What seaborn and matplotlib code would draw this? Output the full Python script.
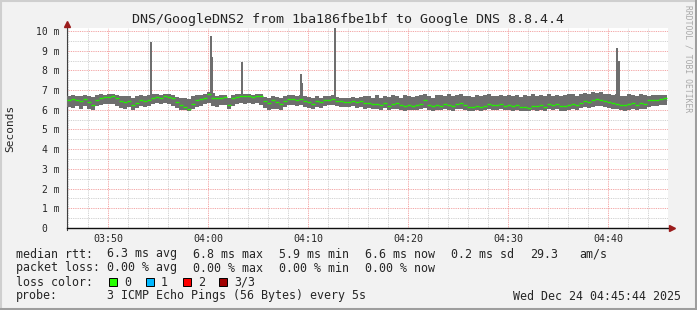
import numpy as np
import pandas as pd
import matplotlib
matplotlib.use("Agg")
import matplotlib.pyplot as plt
from matplotlib.patches import Rectangle
from matplotlib.lines import Line2D
import seaborn as sns

# ---------------- data (minutes after 03:00, values in ms) ----------------
t_start = 46.1          # first sample centre (03:46:06)
t_step = 0.4            # minutes between samples

median_ms = [
    6.50, 6.55, 6.48, 6.42, 6.55, 6.38, 6.22, 6.50, 6.62, 6.66,
    6.64, 6.68, 6.60, 6.45, 6.38, 6.42, 6.22, 6.35, 6.48, 6.45,
    6.50, 6.62, 6.66, 6.60, 6.70, 6.64, 6.58, 6.40, 6.22, 6.12,
    6.05, 6.30, 6.50, 6.55, 6.62, 6.78, 6.60, 6.58, 6.62, 6.64,
    6.25, 6.60, 6.66, 6.70, 6.68, 6.72, 6.66, 6.70, 6.68, 6.45,
    6.32, 6.48, 6.38, 6.30, 6.42, 6.55, 6.56, 6.52, 6.55, 6.45,
    6.40, 6.28, 6.42, 6.38, 6.52, 6.50, 6.55, 6.45, 6.42, 6.38,
    6.40, 6.45, 6.38, 6.42, 6.35, 6.36, 6.28, 6.30, 6.25, 6.32,
    6.20, 6.28, 6.35, 6.22, 6.18, 6.25, 6.20, 6.22, 6.28, 6.50,
    6.22, 6.18, 6.25, 6.20, 6.30, 6.22, 6.18, 6.28, 6.32, 6.25,
    6.15, 6.12, 6.20, 6.15, 6.18, 6.30, 6.22, 6.25, 6.28, 6.20,
    6.25, 6.18, 6.22, 6.12, 6.15, 6.10, 6.20, 6.18, 6.25, 6.15,
    6.28, 6.22, 6.30, 6.20, 6.18, 6.25, 6.30, 6.22, 6.35, 6.42,
    6.40, 6.48, 6.55, 6.50, 6.45, 6.38, 6.35, 6.30, 6.25, 6.22,
    6.28, 6.32, 6.25, 6.35, 6.30, 6.48, 6.52, 6.50, 6.55, 6.58,
]
smoke_hi = [
    6.72, 6.75, 6.70, 6.68, 6.76, 6.72, 6.65, 6.74, 6.78, 6.76,
    6.78, 6.80, 6.76, 6.70, 6.72, 6.68, 6.60, 6.72, 6.74, 6.70,
    6.74, 6.78, 6.80, 6.76, 6.82, 6.78, 6.74, 6.66, 6.62, 6.58,
    6.55, 6.70, 6.74, 6.76, 6.82, 6.92, 6.86, 6.72, 6.74, 6.76,
    6.62, 6.74, 6.78, 6.80, 6.78, 6.80, 6.76, 6.80, 6.78, 6.66,
    6.62, 6.70, 6.66, 6.60, 6.72, 6.76, 6.74, 6.72, 6.74, 6.68,
    6.66, 6.58, 6.70, 6.62, 6.72, 6.70, 6.74, 6.64, 6.62, 6.60,
    6.62, 6.66, 6.60, 6.64, 6.72, 6.70, 6.62, 6.74, 6.60, 6.72,
    6.66, 6.76, 6.70, 6.62, 6.74, 6.72, 6.66, 6.70, 6.76, 6.78,
    6.70, 6.62, 6.74, 6.76, 6.70, 6.78, 6.68, 6.74, 6.80, 6.70,
    6.72, 6.66, 6.76, 6.70, 6.74, 6.78, 6.72, 6.70, 6.76, 6.68,
    6.74, 6.70, 6.76, 6.66, 6.74, 6.70, 6.78, 6.72, 6.76, 6.70,
    6.78, 6.72, 6.76, 6.70, 6.74, 6.80, 6.78, 6.72, 6.82, 6.86,
    6.80, 6.88, 6.86, 6.90, 6.82, 6.78, 6.74, 6.80, 6.72, 6.70,
    6.78, 6.74, 6.70, 6.82, 6.76, 6.70, 6.74, 6.76, 6.74, 6.76,
]
smoke_lo = [
    6.15, 6.10, 6.20, 6.05, 6.18, 6.02, 6.00, 6.20, 6.25, 6.30,
    6.28, 6.30, 6.20, 6.10, 6.05, 6.15, 6.00, 6.08, 6.20, 6.15,
    6.18, 6.30, 6.35, 6.28, 6.32, 6.30, 6.20, 6.10, 6.00, 5.98,
    5.95, 6.05, 6.15, 6.20, 6.28, 6.35, 6.20, 6.15, 6.25, 6.25,
    6.05, 6.20, 6.28, 6.35, 6.30, 6.35, 6.28, 6.32, 6.25, 6.10,
    6.00, 6.05, 6.02, 6.00, 6.12, 6.25, 6.22, 6.20, 6.25, 6.15,
    6.10, 6.02, 6.15, 6.10, 6.20, 6.22, 6.25, 6.18, 6.15, 6.12,
    6.15, 6.18, 6.10, 6.12, 6.05, 6.08, 6.02, 6.05, 6.00, 6.08,
    5.98, 6.02, 6.05, 5.98, 5.96, 6.00, 5.98, 6.00, 6.02, 6.10,
    5.98, 5.95, 6.00, 5.98, 6.05, 5.98, 5.96, 6.02, 6.05, 6.00,
    5.95, 5.94, 5.98, 5.95, 5.98, 6.02, 5.98, 6.00, 6.02, 5.98,
    6.00, 5.96, 5.98, 5.94, 5.95, 5.94, 5.98, 5.96, 6.00, 5.95,
    6.02, 5.98, 6.02, 5.96, 5.95, 6.00, 6.04, 5.98, 6.08, 6.12,
    6.10, 6.15, 6.20, 6.18, 6.12, 6.08, 6.05, 6.02, 5.98, 5.96,
    6.00, 6.05, 5.98, 6.05, 6.02, 6.15, 6.20, 6.18, 6.22, 6.25,
]
spike_time = [54.3, 60.3, 60.4, 63.4, 69.3, 69.4, 72.7, 100.9, 101.0, 101.1]
spike_top = [9.45, 9.75, 8.70, 8.40, 7.82, 7.35, 10.4, 9.15, 8.45, 8.45]

xtick_pos = [50, 60, 70, 80, 90, 100]
xtick_labels = ["03:50", "04:00", "04:10", "04:20", "04:30", "04:40"]
ytick_pos = [0, 1, 2, 3, 4, 5, 6, 7, 8, 9, 10]
ytick_labels = ["0  ", "1 m", "2 m", "3 m", "4 m", "5 m", "6 m", "7 m", "8 m", "9 m", "10 m"]

loss_labels = ["0", "1", "2", "3/3"]
loss_colors = ["#26ff00", "#00b8ff", "#ff0000", "#a00000"]

# ---------------- figure ----------------
W, H = 697, 310
sns.set_style("white")
plt.rcParams["font.family"] = ["DejaVu Sans Mono", "DejaVu Sans"]

fig = plt.figure(figsize=(W / 100, H / 100), dpi=100, facecolor="#f2f2f2")
L, R, T, B = 67, 668, 28, 228
ax = fig.add_axes([L / W, 1 - B / H, (R - L) / W, (B - T) / H])
ax.set_facecolor("white")

times = t_start + t_step * np.arange(len(median_ms))
df = pd.DataFrame({"t": times, "median": median_ms, "lo": smoke_lo, "hi": smoke_hi})

# smoke band
ax.bar(df["t"], df["hi"] - df["lo"], bottom=df["lo"], width=t_step * 1.06,
       color="#6e6e6e", linewidth=0, zorder=3)
# spikes
ax.bar(spike_time, np.array(spike_top) - 6.6, bottom=6.6, width=0.11,
       color="#6e6e6e", linewidth=0, zorder=3)
# median
sns.scatterplot(data=df, x="t", y="median", marker="_", s=8, linewidth=1.0,
                color="#22f000", ax=ax, zorder=5, legend=False)

ax.set_xlim(45.9, 106.0)
ax.set_ylim(0, 10.15)

# grid
gkw = dict(linewidth=0.72, linestyle=(0, (0.9, 0.9)), zorder=1)
for m in np.arange(46, 106.1, 2):
    if m % 10 != 0:
        ax.axvline(m, color="#cfcfcf", **gkw)
for m in np.arange(0.5, 10.1, 1.0):
    ax.axhline(m, color="#cfcfcf", **gkw)
for m in xtick_pos:
    ax.axvline(m, color="#f2a0a0", **gkw)
for m in range(1, 11):
    ax.axhline(m, color="#f2a0a0", **gkw)

for s in ["top", "right"]:
    ax.spines[s].set_visible(False)
ax.spines["left"].set_color("#404040")
ax.spines["left"].set_linewidth(0.8)
ax.spines["bottom"].set_color("#101010")
ax.spines["bottom"].set_linewidth(1.0)
ax.spines["left"].set_bounds(-0.1, 10.15)

ax.set_xticks(xtick_pos)
ax.set_xticklabels(xtick_labels, fontsize=7.2)
ax.set_yticks(ytick_pos)
ax.set_yticklabels(ytick_labels, fontsize=7.0)
ax.tick_params(axis="x", length=2.0, width=0.7, color="#e06060", pad=2)
ax.tick_params(axis="y", length=2.5, width=0.7, color="#606060", pad=3)
ax.set_xlabel("")
ax.set_ylabel("")

# arrows
ax.plot([0], [1.0 + 4 / 200], marker="^", markersize=4.5, color="#9b1c1c",
        transform=ax.transAxes, clip_on=False, zorder=6)
ax.plot([1.0 + 4 / 601], [0], marker=">", markersize=4.5, color="#9b1c1c",
        transform=ax.transAxes, clip_on=False, zorder=6)


def ptext(x, y, s, **kw):
    kw.setdefault("va", "center")
    kw.setdefault("ha", "left")
    fig.text(x / W, 1 - y / H, s, **kw)


ptext(348.5, 19, "DNS/GoogleDNS2 from 1ba186fbe1bf to Google DNS 8.8.4.4",
      ha="center", fontsize=9.6)
ptext(10, 128, "Seconds", ha="center", rotation=90, fontsize=8)
ptext(688, 5, "RRDTOOL / TOBI OETIKER", ha="center", va="top", rotation=270,
      fontsize=5.8, color="#a8a8a8")

fs = 8.4
ptext(16, 254, "median rtt:", fontsize=fs)
ptext(107, 254, "6.3 ms avg", fontsize=fs)
ptext(193, 254, "6.8 ms max", fontsize=fs)
ptext(279, 254, "5.9 ms min", fontsize=fs)
ptext(365, 254, "6.6 ms now", fontsize=fs)
ptext(451, 254, "0.2 ms sd", fontsize=fs)
ptext(530, 254, "29.3", fontsize=fs)
ptext(579, 254, "am/s", fontsize=fs)

ptext(16, 268, "packet loss:", fontsize=fs)
ptext(107, 268, "0.00 % avg", fontsize=fs)
ptext(193, 268, "0.00 % max", fontsize=fs)
ptext(279, 268, "0.00 % min", fontsize=fs)
ptext(365, 268, "0.00 % now", fontsize=fs)

ptext(16, 282, "loss color:", fontsize=fs)
box_x = [109, 146, 183, 219]
for bx, lab, col in zip(box_x, loss_labels, loss_colors):
    fig.patches.append(Rectangle((bx / W, 1 - 286 / H), 8 / W, 8 / H,
                                 transform=fig.transFigure, facecolor=col,
                                 edgecolor="black", linewidth=0.7))
    ptext(bx + 15, 282, lab, fontsize=fs)

ptext(16, 296, "probe:", fontsize=fs)
ptext(107, 296, "3 ICMP Echo Pings (56 Bytes) every 5s", fontsize=fs)
ptext(513, 296, "Wed Dec 24 04:45:44 2025", fontsize=fs)

# frame shading
fig.lines.append(Line2D([0, 1], [1 - 1 / H, 1 - 1 / H], transform=fig.transFigure,
                        color="#cfcfcf", linewidth=1.5))
fig.lines.append(Line2D([1 / W, 1 / W], [0, 1], transform=fig.transFigure,
                        color="#cfcfcf", linewidth=1.5))
fig.lines.append(Line2D([0, 1], [1.5 / H, 1.5 / H], transform=fig.transFigure,
                        color="#9e9e9e", linewidth=2.2))
fig.lines.append(Line2D([1 - 1.5 / W, 1 - 1.5 / W], [0, 1], transform=fig.transFigure,
                        color="#9e9e9e", linewidth=2.2))

fig.savefig("out.png", dpi=100, facecolor=fig.get_facecolor())
